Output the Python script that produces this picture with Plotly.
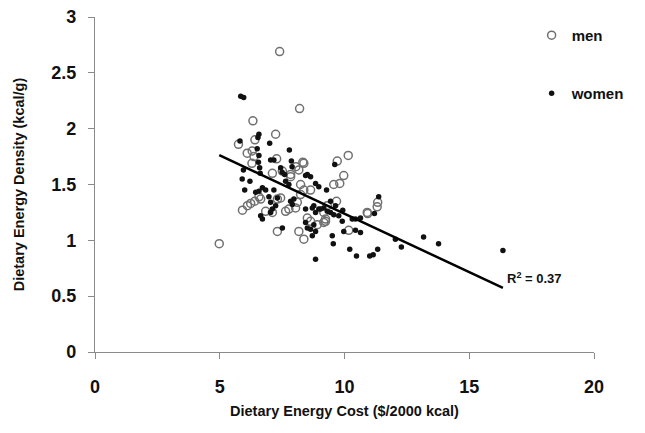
import plotly.graph_objects as go

# ---- data ----
men_cost = [4.98, 7.40, 8.20, 6.33, 7.24, 6.41, 5.75, 6.10, 6.30, 6.29, 6.37, 7.28, 8.33, 10.15,
            9.71, 9.97, 8.17, 7.84, 9.57, 9.81, 11.33, 11.31, 10.93, 9.68, 9.31, 9.17, 9.24, 10.17,
            5.91, 6.11, 6.24, 6.40, 6.64, 6.57, 6.84, 7.11, 7.31, 7.44, 7.31, 7.64, 7.77, 8.04,
            8.11, 8.24, 8.37, 8.17, 8.37, 8.51, 8.64, 8.91, 9.17, 7.11, 7.51, 7.84, 8.05, 8.37,
            8.24, 8.64, 10.91, 9.24]
men_density = [0.97, 2.69, 2.18, 2.07, 1.95, 1.90, 1.86, 1.78, 1.80, 1.69, 1.75, 1.73, 1.70, 1.76,
               1.71, 1.58, 1.63, 1.59, 1.50, 1.51, 1.34, 1.30, 1.24, 1.35, 1.31, 1.25, 1.17, 1.09,
               1.27, 1.31, 1.33, 1.35, 1.37, 1.39, 1.26, 1.25, 1.37, 1.38, 1.08, 1.26, 1.28, 1.29,
               1.34, 1.41, 1.45, 1.08, 1.01, 1.20, 1.17, 1.14, 1.16, 1.60, 1.62, 1.57, 1.66, 1.69,
               1.50, 1.45, 1.25, 1.19]

women_cost = [5.84, 5.96, 6.57, 6.53, 7.00, 5.81, 7.79, 6.50, 6.57, 6.55, 6.60, 6.62, 7.04, 9.61,
              7.87, 7.17, 7.50, 7.60, 8.44, 8.64, 9.28, 11.37, 11.20, 9.44, 9.64, 9.93, 9.97, 10.44,
              10.64, 9.51, 9.55, 10.21, 10.48, 11.01, 11.15, 11.33, 12.04, 12.28, 13.17, 13.77, 16.35,
              6.21, 6.64, 6.71, 6.44, 6.57, 6.71, 6.84, 6.97, 7.04, 7.24, 7.04, 7.11, 7.51, 7.84,
              7.97, 7.91, 7.77, 7.64, 8.51, 8.64, 8.77, 8.84, 8.77, 8.97, 9.17, 9.31, 7.44, 7.90,
              8.51, 8.84, 8.97, 9.77, 9.91, 10.31, 10.44, 10.64, 8.44, 8.84, 8.71, 7.17, 7.31,
              8.44, 8.71, 8.84, 9.04, 9.44, 9.57, 5.90, 6.00, 5.95]
women_density = [2.29, 2.28, 1.95, 1.92, 1.87, 1.89, 1.81, 1.82, 1.76, 1.70, 1.65, 1.60, 1.72, 1.68,
                 1.71, 1.72, 1.61, 1.59, 1.58, 1.57, 1.45, 1.39, 1.24, 1.35, 1.31, 1.27, 1.08, 1.09,
                 1.07, 1.04, 0.97, 0.92, 0.86, 0.86, 0.87, 0.92, 1.01, 0.94, 1.03, 0.97, 0.91,
                 1.53, 1.22, 1.19, 1.43, 1.44, 1.47, 1.45, 1.39, 1.34, 1.31, 1.25, 1.28, 1.11, 1.35,
                 1.37, 1.32, 1.50, 1.53, 1.11, 1.10, 1.14, 0.83, 1.31, 1.28, 1.29, 1.26, 1.65, 1.66,
                 1.59, 1.51, 1.48, 1.22, 1.17, 1.19, 1.19, 1.20, 1.16, 1.08, 1.04, 1.45, 1.38,
                 1.28, 1.29, 1.25, 1.28, 1.25, 1.23, 1.55, 1.45, 1.63]

fit_intercept = 2.283
fit_slope = -0.1045
r_squared = 0.37

x_ticks = [0, 5, 10, 15, 20]
y_ticks = [0, 0.5, 1, 1.5, 2, 2.5, 3]

FONT = "Liberation Sans, Arial, sans-serif"

all_x = men_cost + women_cost
x_line = [min(all_x), max(all_x)]
y_line = [fit_intercept + fit_slope * v for v in x_line]

fig = go.Figure()
fig.add_trace(go.Scatter(
    x=men_cost, y=men_density, mode="markers", name="men", legend="legend",
    marker=dict(symbol="circle-open", size=8, color="#707070", line=dict(width=1.5, color="#707070")),
))
fig.add_trace(go.Scatter(
    x=women_cost, y=women_density, mode="markers", name="women", legend="legend2",
    marker=dict(symbol="circle", size=5.5, color="#111111"),
))
fig.add_trace(go.Scatter(
    x=x_line, y=y_line, mode="lines", showlegend=False,
    line=dict(color="#000000", width=2.5),
))

fig.add_annotation(
    x=16.44, y=0.667, xref="x", yref="y", xanchor="left", yanchor="middle",
    text=f"R<sup>2</sup> = {r_squared:.2f}", showarrow=False,
    font=dict(family=FONT, size=13, color="#111", weight="bold"),
)

axis_common = dict(
    showgrid=False, zeroline=False, showline=True, linecolor="#8a8a8a", linewidth=1.2,
    ticks="outside", tickcolor="#8a8a8a", tickwidth=1.2, automargin=False,
    ticklabeloverflow="allow",
    tickfont=dict(family=FONT, size=18, color="#111", weight="bold"),
)

fig.update_xaxes(
    range=[0, 20], tickvals=x_ticks, ticklen=6, ticklabelstandoff=12,
    title=dict(text="Dietary Energy Cost ($/2000 kcal)", standoff=10,
               font=dict(family=FONT, size=14.5, color="#111", weight="bold")),
    **axis_common,
)
fig.update_yaxes(
    range=[0, 3], tickvals=y_ticks, ticklen=6, ticklabelstandoff=8,
    title=dict(text="Dietary Energy Density (kcal/g)", standoff=23,
               font=dict(family=FONT, size=14.5, color="#111", weight="bold")),
    **axis_common,
)

legend_common = dict(
    bgcolor="rgba(0,0,0,0)", borderwidth=0, itemwidth=30,
    font=dict(family=FONT, size=15, color="#111", weight="bold"),
    xanchor="left", yanchor="middle",
)
fig.update_layout(
    width=645, height=433,
    margin=dict(l=87, r=59, t=9, b=89),
    paper_bgcolor="white", plot_bgcolor="white",
    legend=dict(x=0.875, y=0.945, **legend_common),
    legend2=dict(x=0.875, y=0.772, **legend_common),
)

fig.write_html("out.html")
